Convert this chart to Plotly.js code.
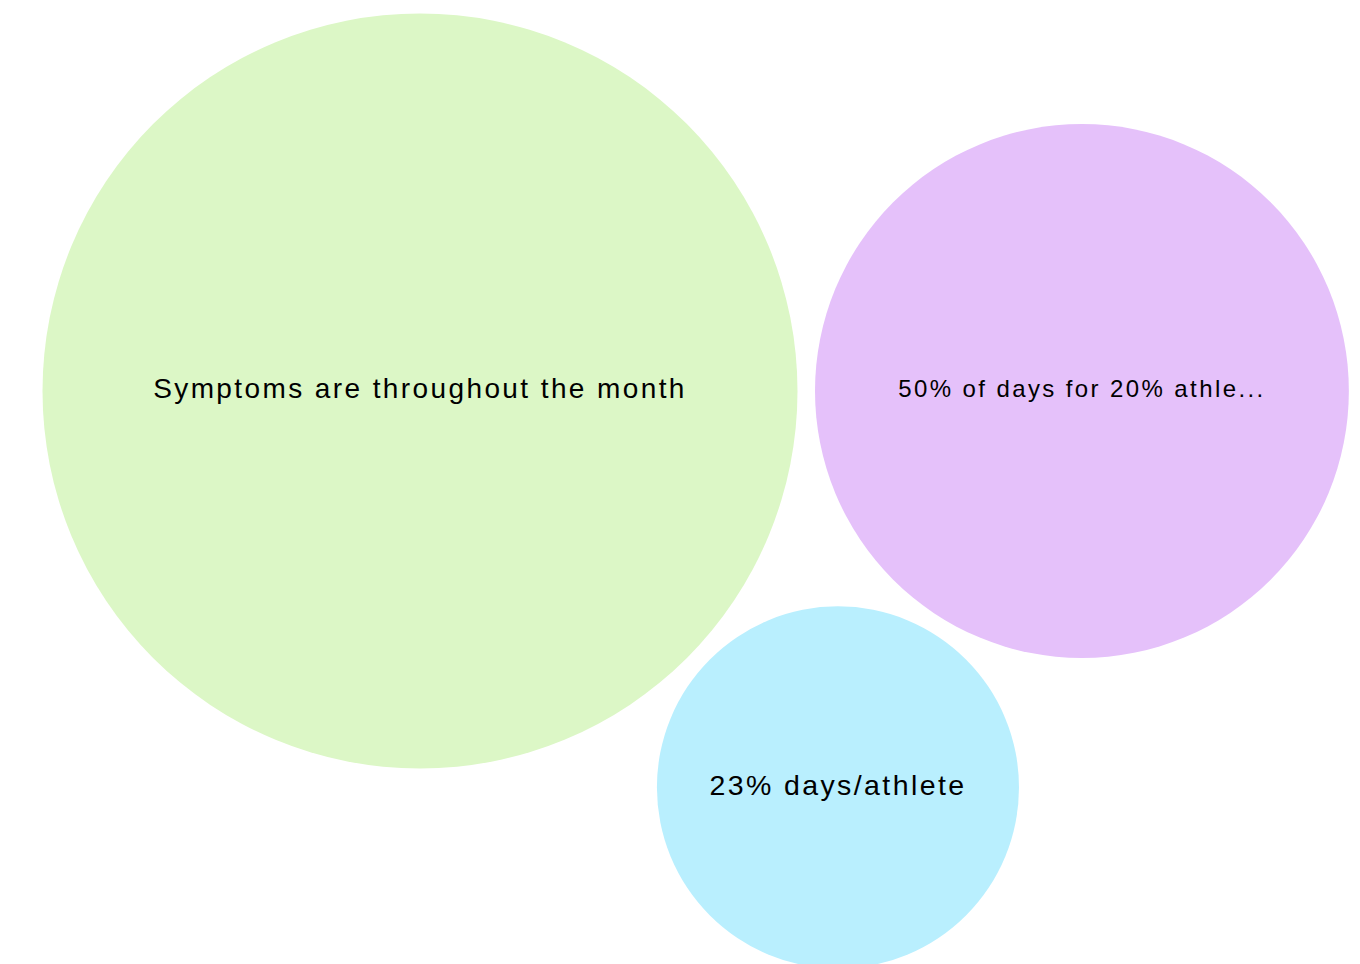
<!DOCTYPE html>
<html>
<head>
<meta charset="utf-8">
<script src="https://cdn.plot.ly/plotly-3.0.1.min.js"></script>
<style>
html,body{margin:0;padding:0;background:#fff;}
#chart{width:1360px;height:964px;}
#chart .textpoint text{letter-spacing:2.4px !important;}
</style>
</head>
<body>
<div id="chart"></div>
<script>
// Data
const labels = ["Symptoms are throughout the month", "50% of days for 20% athle...", "23% days/athlete"];
const values = [100, 50, 23];
const colors = ["#dcf7c6", "#e5c1fa", "#b9effe"];
const labelSizes = [28, 24, 28.5];

// Layout parameters (pixels)
const W = 1360, H = 964;
const pxPerSqrt = 37.75;   // radius scale
const pad = 17.5;          // gap between circles
const origin = [420, 391]; // center of the largest circle

// Circle packing: largest, second tangent to the right, third tangent to both below
const r = values.map(v => pxPerSqrt * Math.sqrt(v));
const D = r[0] + r[1] + pad;
const d13 = r[0] + r[2] + pad, d23 = r[1] + r[2] + pad;
const x3 = (d13 * d13 - d23 * d23 + D * D) / (2 * D);
const y3 = Math.sqrt(d13 * d13 - x3 * x3);
const cx = [0, D, x3].map(v => v + origin[0]);
const cy = [0, 0, y3].map(v => v + origin[1]);

const trace = {
  type: "scatter",
  mode: "markers+text",
  x: cx,
  y: cy,
  text: labels,
  textposition: "middle center",
  textfont: {family: "Liberation Sans, Arial, sans-serif", size: labelSizes, color: "#000"},
  marker: {
    size: r.map(v => 2 * v),
    sizemode: "diameter",
    sizeref: 1,
    color: colors,
    opacity: 1,
    line: {width: 0}
  },
  hoverinfo: "none",
  cliponaxis: true
};

const layout = {
  width: W, height: H,
  margin: {l: 0, r: 0, t: 0, b: 0, pad: 0},
  paper_bgcolor: "#ffffff",
  plot_bgcolor: "#ffffff",
  showlegend: false,
  xaxis: {range: [0, W], visible: false, fixedrange: true},
  yaxis: {range: [H, 0], visible: false, fixedrange: true}
};

Plotly.newPlot("chart", [trace], layout, {displayModeBar: false, staticPlot: true});
</script>
</body>
</html>
